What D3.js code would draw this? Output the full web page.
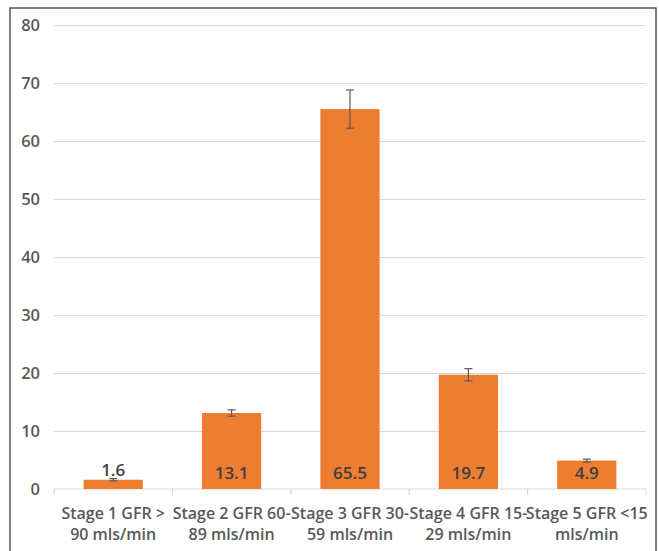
<!DOCTYPE html>
<html>
<head>
<meta charset="utf-8">
<script src="https://cdn.jsdelivr.net/npm/d3@7"></script>
<style>
  body { margin: 0; background: #fff; }
  svg { display: block; font-family: "Open Sans", "Liberation Sans", sans-serif; }
</style>
</head>
<body>
<div id="chart"></div>
<script>
// chart data
var stageLines = [
  ["Stage 1 GFR >", "90 mls/min"],
  ["Stage 2 GFR 60-", "89 mls/min"],
  ["Stage 3 GFR 30-", "59 mls/min"],
  ["Stage 4 GFR 15-", "29 mls/min"],
  ["Stage 5 GFR <15", "mls/min"]
];
var stageValues = [1.6, 13.1, 65.5, 19.7, 4.9];
var stageErrors = [0.2, 0.55, 3.3, 1.05, 0.25];
var yTicks = [0, 10, 20, 30, 40, 50, 60, 70, 80];

var W = 659, H = 551;
var X0 = 54, X1 = 646, Y0 = 489, Y1 = 25;
var BAR_COLOR = "#ED7D31";
var TEXT_COLOR = "#595959";

var svg = d3.select("#chart").append("svg")
  .attr("width", W)
  .attr("height", H);

// frame
svg.append("rect")
  .attr("x", 10).attr("y", 8)
  .attr("width", 646).attr("height", 560)
  .attr("fill", "none")
  .attr("stroke", "#555")
  .attr("stroke-width", 1.5);

var x = d3.scaleBand()
  .domain(d3.range(stageValues.length))
  .range([X0, X1])
  .paddingInner(0.5)
  .paddingOuter(0.25);

var y = d3.scaleLinear().domain([0, 80]).range([Y0, Y1]);

// grid lines + y labels
var yAxis = d3.axisLeft(y).tickValues(yTicks.slice(1)).tickSize(-(X1 - X0)).tickFormat("");
var yg = svg.append("g").attr("transform", "translate(" + X0 + ",0)").call(yAxis);
yg.select(".domain").remove();
yg.selectAll(".tick line").attr("stroke", "#d9d9d9").attr("stroke-width", 1);

svg.selectAll(".ylab").data(yTicks).enter().append("text")
  .attr("class", "ylab")
  .attr("x", 40)
  .attr("y", function(d) { return y(d); })
  .attr("dy", "0.36em")
  .attr("text-anchor", "end")
  .attr("fill", TEXT_COLOR)
  .attr("font-size", 16.5)
  .attr("font-weight", 600)
  .text(function(d) { return d; });

// x axis
var step = (X1 - X0) / stageValues.length;
svg.append("line")
  .attr("x1", X0).attr("x2", X1)
  .attr("y1", Y0).attr("y2", Y0)
  .attr("stroke", "#d9d9d9").attr("stroke-width", 1.2);
svg.selectAll(".xtick").data(d3.range(stageValues.length + 1)).enter().append("line")
  .attr("class", "xtick")
  .attr("x1", function(i) { return X0 + i * step; })
  .attr("x2", function(i) { return X0 + i * step; })
  .attr("y1", Y0).attr("y2", Y0 + 6)
  .attr("stroke", "#d9d9d9").attr("stroke-width", 1.2);

// bars
svg.selectAll(".bar").data(stageValues).enter().append("rect")
  .attr("class", "bar")
  .attr("x", function(d, i) { return x(i); })
  .attr("y", function(d) { return y(d); })
  .attr("width", x.bandwidth())
  .attr("height", function(d) { return Y0 - y(d); })
  .attr("fill", BAR_COLOR);

// error bars
var eb = svg.selectAll(".err").data(stageValues).enter().append("g").attr("class", "err")
  .attr("stroke", "#595959").attr("stroke-width", 1.2);
eb.append("line")
  .attr("x1", function(d, i) { return x(i) + x.bandwidth() / 2; })
  .attr("x2", function(d, i) { return x(i) + x.bandwidth() / 2; })
  .attr("y1", function(d, i) { return y(d + stageErrors[i]); })
  .attr("y2", function(d, i) { return y(d - stageErrors[i]); });
[1, -1].forEach(function(s) {
  eb.append("line")
    .attr("x1", function(d, i) { return x(i) + x.bandwidth() / 2 - 4; })
    .attr("x2", function(d, i) { return x(i) + x.bandwidth() / 2 + 4; })
    .attr("y1", function(d, i) { return y(d + s * stageErrors[i]); })
    .attr("y2", function(d, i) { return y(d + s * stageErrors[i]); });
});

// value labels
svg.selectAll(".val").data(stageValues).enter().append("text")
  .attr("class", "val")
  .attr("x", function(d, i) { return x(i) + x.bandwidth() / 2; })
  .attr("y", function(d) { return d < 3 ? y(d) - 4 : Y0 - 10; })
  .attr("text-anchor", "middle")
  .attr("fill", "#404040")
  .attr("font-size", 17)
  .attr("font-weight", 600)
  .text(function(d) { return d.toFixed(1); });

// category labels
var cl = svg.selectAll(".cat").data(stageLines).enter().append("text")
  .attr("class", "cat")
  .attr("text-anchor", "middle")
  .attr("fill", TEXT_COLOR)
  .attr("font-size", 16)
  .attr("font-weight", 600);
cl.selectAll("tspan").data(function(d, i) { return d.map(function(t) { return {t: t, i: i}; }); })
  .enter().append("tspan")
  .attr("x", function(d) { return x(d.i) + x.bandwidth() / 2; })
  .attr("y", function(d, j) { return 519 + j * 21; })
  .text(function(d) { return d.t; });
</script>
</body>
</html>
